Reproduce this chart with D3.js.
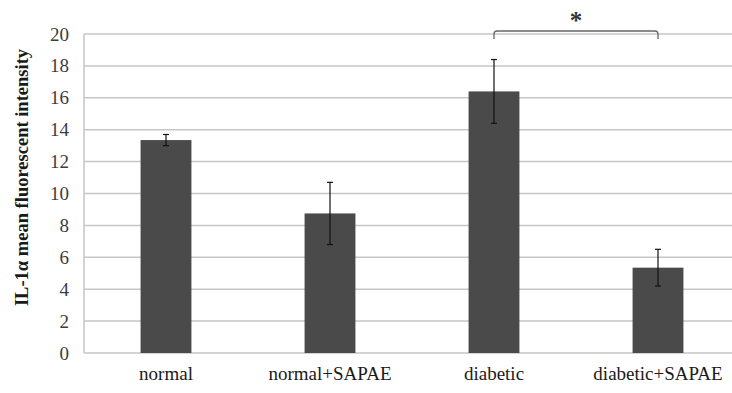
<!DOCTYPE html>
<html>
<head>
<meta charset="utf-8">
<script src="https://cdn.jsdelivr.net/npm/d3@7"></script>
<style>
  body { margin: 0; background: #fff; }
  svg { display: block; }
  svg text { font-family: "Liberation Serif", "Times New Roman", Times, serif; }
</style>
</head>
<body>
<script>
const groups = ['normal', 'normal+SAPAE', 'diabetic', 'diabetic+SAPAE'];
const means = [13.35, 8.75, 16.4, 5.35];
const errors = [0.35, 1.95, 2.0, 1.15];
const yTicks = [0, 2, 4, 6, 8, 10, 12, 14, 16, 18, 20];
const sigPair = ['diabetic', 'diabetic+SAPAE'];

const width = 732, height = 393;
const margin = {top: 34, right: -8, bottom: 40, left: 84};
const serif = '"Liberation Serif", "Times New Roman", Times, serif';

let svg = d3.select('body').append('svg')
    .attr('width', width)
    .attr('height', height);

let x = d3.scaleBand()
    .domain(groups)
    .range([margin.left, width - margin.right])
    .paddingInner(0.69)
    .paddingOuter(0.345);

let y = d3.scaleLinear()
    .domain([0, 20])
    .range([height - margin.bottom, margin.top]);

// gridlines
svg.append('g')
    .selectAll('line')
    .data(yTicks)
    .enter().append('line')
    .attr('x1', margin.left)
    .attr('x2', width - margin.right)
    .attr('y1', d => y(d))
    .attr('y2', d => y(d))
    .attr('stroke', '#c6c6c6')
    .attr('stroke-width', 1.5);

// left axis line
svg.append('line')
    .attr('x1', margin.left).attr('x2', margin.left)
    .attr('y1', y(20)).attr('y2', y(0))
    .attr('stroke', '#c6c6c6')
    .attr('stroke-width', 1.5);

// y tick labels
let yAxis = d3.axisLeft(y).tickValues(yTicks).tickSize(0).tickPadding(15);
let ya = svg.append('g')
    .attr('transform', `translate(${margin.left},0)`)
    .call(yAxis);
ya.select('.domain').remove();
ya.selectAll('text')
    .style('font-family', serif)
    .style('font-size', '19px')
    .attr('fill', '#3c3c3c');

// bars
svg.append('g')
    .selectAll('rect')
    .data(groups)
    .enter().append('rect')
    .attr('x', d => x(d))
    .attr('y', (d, i) => y(means[i]))
    .attr('width', x.bandwidth())
    .attr('height', (d, i) => y(0) - y(means[i]))
    .attr('fill', '#4a4a4a');

// error bars
let eb = svg.append('g')
    .attr('stroke', '#111')
    .attr('stroke-width', 1.2);
groups.forEach((g, i) => {
    let cx = x(g) + x.bandwidth() / 2;
    let hi = y(means[i] + errors[i]), lo = y(means[i] - errors[i]);
    eb.append('line').attr('x1', cx).attr('x2', cx).attr('y1', hi).attr('y2', lo);
    eb.append('line').attr('x1', cx - 3).attr('x2', cx + 3).attr('y1', hi).attr('y2', hi);
    eb.append('line').attr('x1', cx - 3).attr('x2', cx + 3).attr('y1', lo).attr('y2', lo);
});

// x labels
let xAxis = d3.axisBottom(x).tickSize(0).tickPadding(14);
let xa = svg.append('g')
    .attr('transform', `translate(0,${y(0)})`)
    .call(xAxis);
xa.select('.domain').remove();
xa.selectAll('text')
    .style('font-family', serif)
    .style('font-size', '19px')
    .attr('fill', '#1a1a1a');

// y axis title
svg.append('text')
    .attr('transform', `translate(28,${(y(0) + y(20)) / 2 - 16}) rotate(-90)`)
    .attr('text-anchor', 'middle')
    .style('font-family', serif)
    .style('font-weight', 'bold')
    .style('font-size', '18.5px')
    .attr('fill', '#1a1a1a')
    .text('IL-1α mean fluorescent intensity');

// significance bracket
let bx1 = x(sigPair[0]) + x.bandwidth() / 2;
let bx2 = x(sigPair[1]) + x.bandwidth() / 2;
let by = 31, bdrop = 8, r = 3;
svg.append('path')
    .attr('d', `M${bx1},${by + bdrop} V${by + r} Q${bx1},${by} ${bx1 + r},${by} H${bx2 - r} Q${bx2},${by} ${bx2},${by + r} V${by + bdrop}`)
    .attr('fill', 'none')
    .attr('stroke', '#666')
    .attr('stroke-width', 1.3);
svg.append('text')
    .attr('x', (bx1 + bx2) / 2)
    .attr('y', 29)
    .attr('text-anchor', 'middle')
    .style('font-family', serif)
    .style('font-size', '25px')
    .style('font-weight', 'bold')
    .attr('fill', '#333')
    .text('*');
</script>
</body>
</html>
